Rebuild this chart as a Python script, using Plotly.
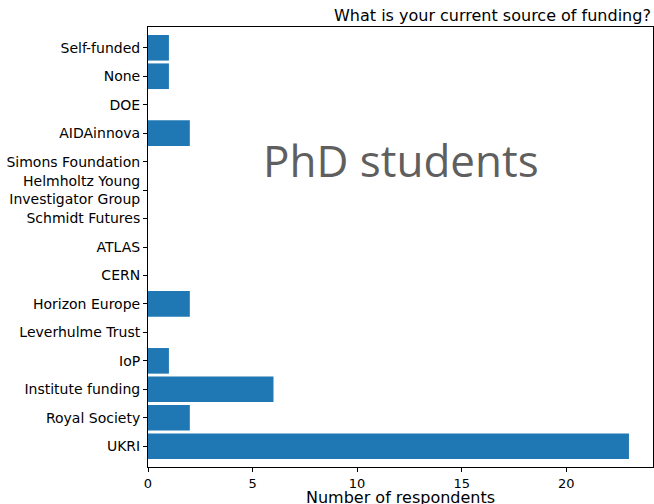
import plotly.graph_objects as go

# funding sources, listed bottom to top (as barh draws them)
sources = ['UKRI', 'Royal Society', 'Institute funding', 'IoP', 'Leverhulme Trust',
           'Horizon Europe', 'CERN', 'ATLAS', 'Schmidt Futures',
           'Helmholtz Young<br>Investigator Group', 'Simons Foundation',
           'AIDAinnova', 'DOE', 'None', 'Self-funded']
counts = [23, 2, 6, 1, 0, 2, 0, 0, 0, 0, 0, 2, 0, 1, 1]

x_ticks = [0, 5, 10, 15, 20]

fig = go.Figure(go.Bar(
    x=counts,
    y=sources,
    orientation='h',
    marker=dict(color='#1f77b4', line=dict(width=0)),
))

axis_style = dict(
    showline=True, linecolor='black', linewidth=1, mirror=True,
    ticks='outside', ticklen=4, tickcolor='black',
    showgrid=False, zeroline=False,
)

fig.update_layout(
    width=654, height=504,
    margin=dict(l=148, r=1, t=27, b=37),
    paper_bgcolor='white', plot_bgcolor='white',
    bargap=0.1,
    showlegend=False,
    xaxis=dict(range=[0, 24.15], tickvals=x_ticks,
               tickfont=dict(family='DejaVu Sans', size=13, color='black'),
               **axis_style),
    yaxis=dict(range=[-0.73, 14.73], categoryorder='array', categoryarray=sources,
               tickfont=dict(family='DejaVu Sans', size=14, color='black'),
               **axis_style),
    annotations=[
        dict(text='What is your current source of funding?', xref='paper', yref='paper',
             x=1, y=1, xanchor='right', yanchor='bottom', yshift=0, showarrow=False,
             font=dict(family='DejaVu Sans', size=16, color='black')),
        dict(text='Number of respondents', xref='paper', yref='paper',
             x=0.5, y=-0.07, xanchor='center', yanchor='middle', showarrow=False,
             borderpad=0,
             font=dict(family='DejaVu Sans', size=16, color='black')),
        dict(text='PhD students', xref='paper', yref='paper',
             x=0.501, y=0.698, xanchor='center', yanchor='middle', showarrow=False,
             font=dict(family='Open Sans', size=44, color='#5f5f5f')),
    ],
)

fig.write_html("out.html", config={'displayModeBar': False},
               post_script="document.body.style.margin='0';")
